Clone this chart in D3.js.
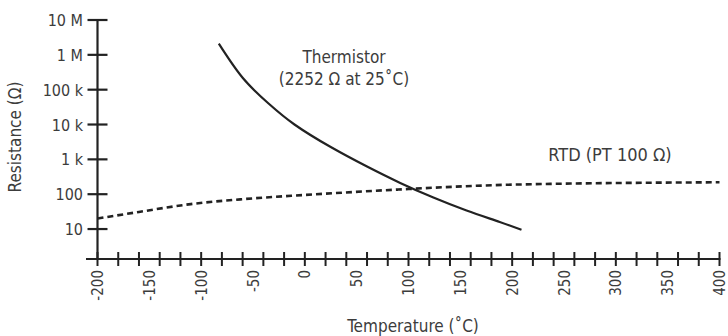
<!DOCTYPE html>
<html>
<head>
<meta charset="utf-8">
<script src="https://cdn.jsdelivr.net/npm/d3@7"></script>
<style>
  body { margin: 0; background: #fff; }
  svg text { font-family: "DejaVu Sans Condensed", "Liberation Sans Narrow", "Roboto", sans-serif; fill: #3c3c3c; }
</style>
</head>
<body>
<script>
// Thermistor curve
var thermTemp = [-83, -60, -35, -10, 25, 60, 92, 124, 156, 188, 209];
var thermRes = [2.1e6, 2.2e5, 4.0e4, 1.0e4, 2252, 620, 210, 80, 34, 16, 9.5];

// RTD curve (PT 100)
var rtdTemp = [-200, -160, -110, -60, 0, 90, 200, 400];
var rtdRes = [20, 31, 52, 72, 95, 136, 188, 220];

var yTicks = [10, 100, 1e3, 1e4, 1e5, 1e6, 1e7];
var yTickLabels = ['10', '100', '1 k', '10 k', '100 k', '1 M', '10 M'];
var xLabelTicks = [-200, -150, -100, -50, 0, 50, 100, 150, 200, 250, 300, 350, 400];
var xMinorTicks = d3.range(-200, 401, 20);

var width = 728, height = 336;

var svg = d3.select('body')
            .append('svg')
              .attr('width', width)
              .attr('height', height);

var x = d3.scaleLinear().domain([-200, 400]).range([97.5, 719.5]);
var y = d3.scaleLog().domain([Math.pow(10, 0.14), 1e7]).range([259, 20]);

var axisColor = '#222';

// y axis line + cross ticks
svg.append('line')
  .attr('x1', x(-200)).attr('x2', x(-200))
  .attr('y1', y(1e7)).attr('y2', 259)
  .attr('stroke', axisColor).attr('stroke-width', 2.2);

svg.selectAll('.ytick')
  .data(yTicks)
  .enter()
  .append('line')
    .attr('x1', x(-200) - 10).attr('x2', x(-200) + 10)
    .attr('y1', function(d){ return y(d); })
    .attr('y2', function(d){ return y(d); })
    .attr('stroke', axisColor).attr('stroke-width', 2.2);

svg.selectAll('.ylab')
  .data(yTicks)
  .enter()
  .append('text')
    .attr('x', 83)
    .attr('y', function(d){ return y(d) + 6; })
    .attr('text-anchor', 'end')
    .attr('font-size', 16)
    .text(function(d, i){ return yTickLabels[i]; });

// x axis line + cross ticks
svg.append('line')
  .attr('x1', 86).attr('x2', x(400) + 1)
  .attr('y1', 259).attr('y2', 259)
  .attr('stroke', axisColor).attr('stroke-width', 2.2);

svg.selectAll('.xtick')
  .data(xMinorTicks)
  .enter()
  .append('line')
    .attr('x1', function(d){ return x(d); })
    .attr('x2', function(d){ return x(d); })
    .attr('y1', 252).attr('y2', 266)
    .attr('stroke', axisColor).attr('stroke-width', 2);

svg.selectAll('.xlab')
  .data(xLabelTicks)
  .enter()
  .append('text')
    .attr('transform', function(d){ return 'translate(' + (x(d) + 5.5) + ',270) rotate(-90)'; })
    .attr('text-anchor', 'end')
    .attr('font-size', 15)
    .text(function(d){ return d; });

// axis titles
svg.append('text')
  .attr('transform', 'translate(21,137) rotate(-90)')
  .attr('text-anchor', 'middle')
  .attr('font-size', 17)
  .text('Resistance (\u03A9)');

svg.append('text')
  .attr('x', 413).attr('y', 332)
  .attr('text-anchor', 'middle')
  .attr('font-size', 17)
  .text('Temperature (\u02DAC)');

// curves
var thermLine = d3.line()
  .x(function(d){ return x(d[0]); })
  .y(function(d){ return y(d[1]); })
  .curve(d3.curveNatural);

var rtdLine = d3.line()
  .x(function(d){ return x(d[0]); })
  .y(function(d){ return y(d[1]); })
  .curve(d3.curveMonotoneX);

svg.append('path')
  .datum(d3.zip(thermTemp, thermRes))
  .attr('d', thermLine)
  .attr('fill', 'none')
  .attr('stroke', '#222')
  .attr('stroke-width', 2.2);

svg.append('path')
  .datum(d3.zip(rtdTemp, rtdRes))
  .attr('d', rtdLine)
  .attr('fill', 'none')
  .attr('stroke', '#222')
  .attr('stroke-width', 2.6)
  .attr('stroke-dasharray', '6,4');

// annotations
svg.append('text')
  .attr('x', 344).attr('y', 63)
  .attr('text-anchor', 'middle')
  .attr('font-size', 17)
  .text('Thermistor');

svg.append('text')
  .attr('x', 344).attr('y', 85)
  .attr('text-anchor', 'middle')
  .attr('font-size', 17)
  .text('(2252 \u03A9 at 25\u02DAC)');

svg.append('text')
  .attr('x', 610).attr('y', 161)
  .attr('text-anchor', 'middle')
  .attr('font-size', 18)
  .text('RTD (PT 100 \u03A9)');
</script>
</body>
</html>
